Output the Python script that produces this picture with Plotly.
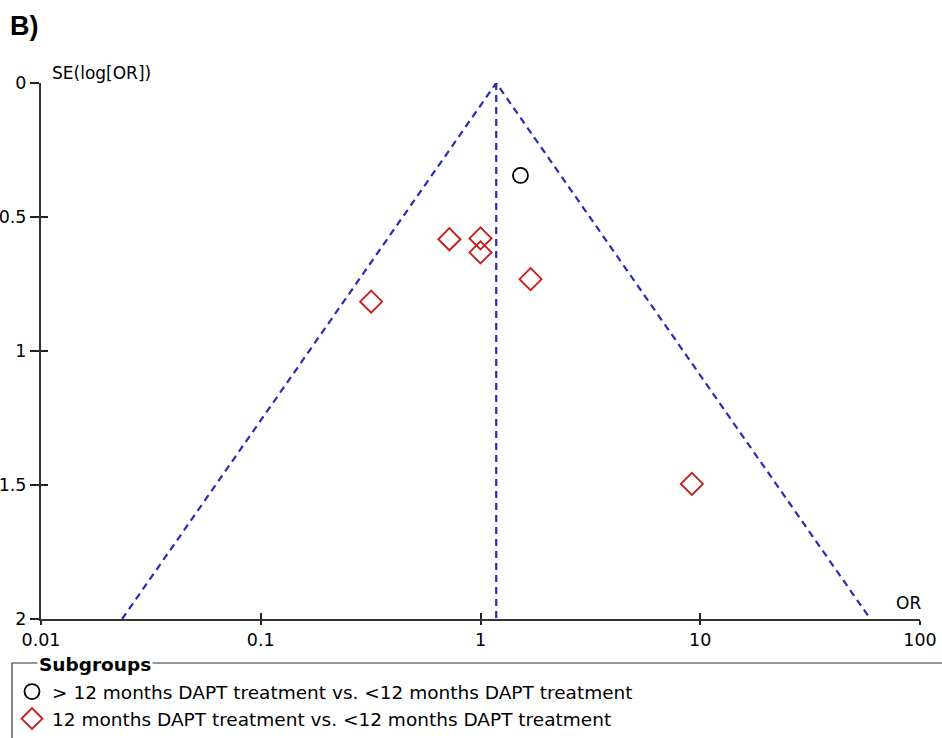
import numpy as np
import plotly.graph_objects as go

# ---- data ----
pooled_or = 1.179
se_max = 2.0
grp1_name = "> 12 months DAPT treatment vs. <12 months DAPT treatment"
grp1_or = [1.52]
grp1_se = [0.345]
grp2_name = "12 months DAPT treatment vs. <12 months DAPT treatment"
grp2_or = [0.722, 1.00, 1.00, 1.69, 0.318, 9.16]
grp2_se = [0.583, 0.580, 0.632, 0.732, 0.816, 1.496]
x_ticks = [0.01, 0.1, 1, 10, 100]
x_ticktext = ["0.01", "0.1", "1", "10", "100"]
y_ticks = [0, 0.5, 1, 1.5, 2]
y_ticktext = ["0", "0.5", "1", "1.5", "2"]

W, H = 942, 738
OFF = 0  # body margin removed via post_script
# desired plot-area edges in screen pixels
SX0, SX1, SY0, SY1 = 41, 920, 83, 619
L = SX0 - OFF
T = SY0 - OFF
R = W - (SX1 - OFF)
B = H - (SY1 - OFF)
pw, ph = W - L - R, H - T - B

def px2paperx(px):  # screen px -> paper
    return (px - SX0) / pw

def py2papery(py):
    return (SY1 - py) / ph

FONT = "DejaVu Sans"
blue = "#2a2ab8"
red = "#c81e1e"

fig = go.Figure()

# funnel limits
lo = pooled_or * np.exp(-1.96 * se_max)
hi = pooled_or * np.exp(1.96 * se_max)
fig.add_trace(go.Scatter(x=[lo, pooled_or, hi], y=[se_max, 0, se_max], mode="lines",
                         line=dict(color=blue, width=2.2, dash="7px,5px"),
                         showlegend=False, hoverinfo="skip"))
fig.add_trace(go.Scatter(x=[pooled_or, pooled_or], y=[0, se_max], mode="lines",
                         line=dict(color=blue, width=2.2, dash="7px,5px"),
                         showlegend=False, hoverinfo="skip"))

fig.add_trace(go.Scatter(x=grp1_or, y=grp1_se, mode="markers", name=grp1_name,
                         marker=dict(symbol="circle-open", size=15, color="black",
                                     line=dict(width=1.8, color="black"))))
fig.add_trace(go.Scatter(x=grp2_or, y=grp2_se, mode="markers", name=grp2_name,
                         marker=dict(symbol="diamond-open", size=17, color=red,
                                     line=dict(width=1.9, color=red))))

axis_common = dict(showgrid=False, zeroline=False, automargin=False)
fig.update_layout(
    width=W, height=H,
    margin=dict(l=L, r=R, t=T, b=B, autoexpand=False),
    paper_bgcolor="white", plot_bgcolor="white",
    font=dict(family=FONT, size=17, color="black"),
    xaxis=dict(type="log", range=[-2, 2], tickvals=x_ticks, ticktext=x_ticktext,
               ticks="outside", ticklen=4, tickwidth=1.5, tickcolor="#222",
               showline=True, linecolor="#333", linewidth=2, **axis_common,
               tickfont=dict(size=17.5, family=FONT)),
    yaxis=dict(range=[2, 0], tickvals=y_ticks, ticktext=y_ticktext,
               ticks="outside", ticklen=9, tickwidth=1.5, tickcolor="#222",
               showline=True, linecolor="#333", linewidth=2, **axis_common,
               tickfont=dict(size=17.5, family=FONT)),
    xaxis2=dict(type="log", range=[-2, 2], overlaying="x", matches="x", anchor="y",
                side="bottom", tickvals=x_ticks, ticks="inside", ticklen=6,
                tickwidth=1.5, tickcolor="#222", showticklabels=False, **axis_common),
    yaxis2=dict(range=[2, 0], overlaying="y", matches="y", anchor="x", side="left",
                tickvals=y_ticks, ticks="inside", ticklen=7, tickwidth=1.5,
                tickcolor="#222", showticklabels=False, **axis_common),
    showlegend=True,
    legend=dict(x=px2paperx(12), y=py2papery(673), xanchor="left", yanchor="top",
                bgcolor="rgba(0,0,0,0)", borderwidth=0,
                font=dict(family=FONT, size=18.5, color="black"),
                itemwidth=30, tracegroupgap=0),
)

# dummy trace to activate overlay axes (no visible marks)
fig.add_trace(go.Scatter(x=[1], y=[1], xaxis="x2", yaxis="y2", mode="markers",
                         marker=dict(opacity=0), showlegend=False, hoverinfo="skip"))

# legend frame
fig.add_shape(type="rect", xref="paper", yref="paper",
              x0=px2paperx(12), x1=px2paperx(960), y0=py2papery(663), y1=py2papery(770),
              line=dict(color="#333", width=1.2), fillcolor="rgba(0,0,0,0)", layer="below")

fig.add_annotation(xref="paper", yref="paper", x=px2paperx(37), y=py2papery(664),
                   xanchor="left", yanchor="middle", showarrow=False,
                   text="<b>Subgroups</b>", bgcolor="white", borderpad=1,
                   font=dict(family=FONT, size=18.5, color="black"))

fig.add_annotation(xref="paper", yref="paper", x=px2paperx(8), y=py2papery(26),
                   xanchor="left", yanchor="middle", showarrow=False,
                   text="<b>B)</b>", font=dict(family="Liberation Sans", size=27, color="black"))
fig.add_annotation(xref="paper", yref="paper", x=px2paperx(50), y=py2papery(73),
                   xanchor="left", yanchor="middle", showarrow=False,
                   text="SE(log[OR])", font=dict(family=FONT, size=17, color="black"))
fig.add_annotation(xref="paper", yref="paper", x=px2paperx(923), y=py2papery(603),
                   xanchor="right", yanchor="middle", showarrow=False,
                   text="OR", font=dict(family=FONT, size=17, color="black"))

fig.write_html("out.html", config={"displayModeBar": False},
               post_script="document.body.style.margin='0';document.body.style.overflow='hidden';")
